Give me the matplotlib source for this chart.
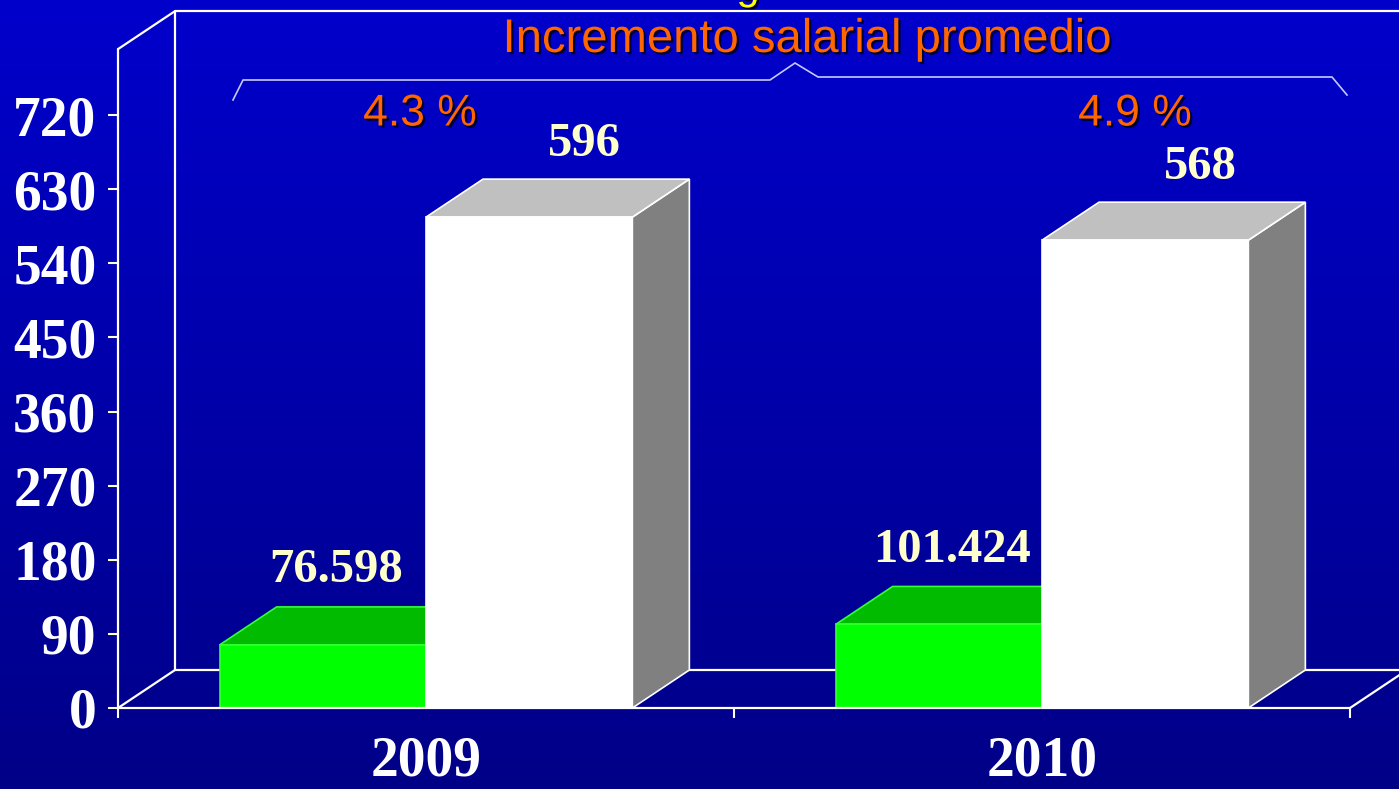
import numpy as np
import matplotlib
matplotlib.use("Agg")
import matplotlib.pyplot as plt
from matplotlib.patches import Polygon
import matplotlib.patheffects as pe

# ---- data ----
years = ["2009", "2010"]
green_values = [76.598, 101.424]
white_values = [596, 568]
green_labels = ["76.598", "101.424"]
white_labels = ["596", "568"]
increments = ["4.3 %", "4.9 %"]
subtitle = "Incremento salarial promedio"
y_ticks = [0, 90, 180, 270, 360, 450, 540, 630, 720]

W, H = 1399, 789
fig = plt.figure(figsize=(W / 100, H / 100), dpi=100)

# ---- background gradient + decorations (pixel coordinates) ----
bg = fig.add_axes([0, 0, 1, 1], zorder=0)
bg.set_xlim(0, W)
bg.set_ylim(H, 0)
bg.axis("off")
t = np.linspace(0, 1, 256)[:, None]
top_c = np.array([0.0, 0.0, 0.80])
bot_c = np.array([0.0, 0.0, 0.53])
grad = (top_c * (1 - t) + bot_c * t)[:, None, :].repeat(2, axis=1)
bg.imshow(grad, extent=[0, W, H, 0], aspect="auto", interpolation="bicubic")

shadow = [pe.SimplePatchShadow(offset=(1.6, -1.6), shadow_rgbFace="black", alpha=0.75), pe.Normal()]
sans = "Liberation Sans"
bg.text(748, -1, "g", color="#FFFF00", fontsize=30, family=sans, ha="center",
        va="baseline", path_effects=shadow)
bg.text(807, 40, subtitle, color="#FF6600", fontsize=34, family=sans,
        ha="center", va="center", path_effects=shadow)
bg.text(420, 114, increments[0], color="#FF6600", fontsize=32, family=sans,
        ha="center", va="center", path_effects=shadow)
bg.text(1135, 114, increments[1], color="#FF6600", fontsize=32, family=sans,
        ha="center", va="center", path_effects=shadow)
brace_x = [233, 243, 770, 795, 818, 1332, 1347]
brace_y = [100, 80, 80, 63, 77, 77, 95]
bg.plot(brace_x, brace_y, color="#C8C8FF", lw=1.2)

# ---- main chart axes ----
ax = fig.add_axes([118 / W, 81 / H, 1232 / W, 593 / H], zorder=1)
ax.patch.set_alpha(0)
ax.set_xlim(0, 2)
ax.set_ylim(0, 720)
for s in ax.spines.values():
    s.set_visible(False)

DX = 57 / 616.0
DY = 38 * 720 / 593.0
TOP = 800
line_kw = dict(color="white", lw=1.6, clip_on=False, solid_capstyle="round")

# walls and floor
ax.plot([0, 0], [0, TOP], **line_kw, zorder=2)
ax.plot([0, DX], [TOP, TOP + DY], **line_kw, zorder=2)
ax.plot([DX, DX], [DY, TOP + DY], **line_kw, zorder=2)
ax.plot([DX, 2 + DX], [TOP + DY, TOP + DY], **line_kw, zorder=2)
ax.plot([DX, 2 + DX], [DY, DY], **line_kw, zorder=2)
ax.plot([0, DX], [0, DY], **line_kw, zorder=2)
ax.plot([2, 2 + DX], [0, DY], **line_kw, zorder=2)
ax.plot([0, 2], [0, 0], **line_kw, zorder=10)

BW = 0.335


def bar3d(x0, v, front, top, side, edge, z):
    faces = [
        ([(x0 + BW, 0), (x0 + BW + DX, DY), (x0 + BW + DX, v + DY), (x0 + BW, v)], side),
        ([(x0, v), (x0 + BW, v), (x0 + BW + DX, v + DY), (x0 + DX, v + DY)], top),
        ([(x0, 0), (x0 + BW, 0), (x0 + BW, v), (x0, v)], front),
    ]
    for pts, fc in faces:
        ax.add_patch(Polygon(pts, closed=True, facecolor=fc, edgecolor=edge,
                             lw=1.2, zorder=z, clip_on=False))


serif = "Liberation Serif"
for i in range(len(years)):
    gx = i + 0.5 - BW
    wx = i + 0.5
    bar3d(gx, green_values[i], "#00FF00", "#00BB00", "#009900", "#33FF33", 3 + 2 * i)
    bar3d(wx, white_values[i], "#FFFFFF", "#C0C0C0", "#808080", "#FFFFFF", 4 + 2 * i)
    ax.text(gx + BW / 2 + 0.022, green_values[i] + DY + 18, green_labels[i],
            ha="center", va="bottom", color="#FFFFCC", fontsize=35,
            family=serif, fontweight="bold", clip_on=False, zorder=12)
    ax.text(wx + BW / 2 + 0.09, white_values[i] + DY + 16, white_labels[i],
            ha="center", va="bottom", color="#FFFFCC", fontsize=35,
            family=serif, fontweight="bold", clip_on=False, zorder=12)

# ticks
ax.set_yticks(y_ticks)
ax.set_yticklabels([str(v) for v in y_ticks], family=serif, fontweight="bold",
                   fontsize=40, color="white")
ax.tick_params(axis="y", direction="out", length=7.5, width=1.5,
               color="#FFFFCC", pad=8)
ax.set_xticks([0.5, 1.5])
ax.set_xticklabels(years, family=serif, fontweight="bold", fontsize=40, color="white")
ax.set_xticks([0, 1, 2], minor=True)
ax.tick_params(axis="x", which="major", length=0, pad=20)
ax.tick_params(axis="x", which="minor", direction="out", length=7.5, width=1.5,
               color="white")

fig.savefig("out.png", dpi=100)
